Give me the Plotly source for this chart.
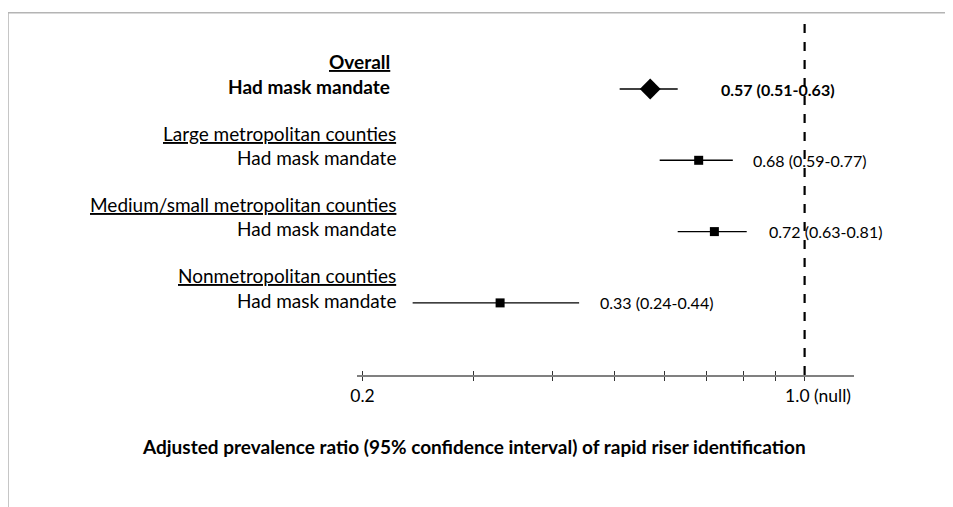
import math
import plotly.graph_objects as go

# ---- data ----
groups = ["Overall", "Large metropolitan counties",
          "Medium/small metropolitan counties", "Nonmetropolitan counties"]
row_label = "Had mask mandate"
estimate = [0.57, 0.68, 0.72, 0.33]
lower = [0.51, 0.59, 0.63, 0.24]
upper = [0.63, 0.77, 0.81, 0.44]
tick_values = [0.2, 0.3, 0.4, 0.5, 0.6, 0.7, 0.8, 0.9, 1.0]
tick_labels = ["0.2", "", "", "", "", "", "", "", "1.0 (null)"]
x_title = "Adjusted prevalence ratio (95% confidence interval) of rapid riser identification"

# ---- layout geometry (target page pixels; the page body has an 8px margin) ----
OFF = 8
W, H = 953 - OFF, 507 - OFF
L, R, T, B = 357 - OFF, 854 - OFF, 16 - OFF, 375 - OFF
PW, PH = R - L, B - T
def px(xp):
    return (xp - OFF - L) / PW
def py(yp):
    return (B - (yp - OFF)) / PH

FONT = "Lato"
rows = list(range(len(groups)))
y_range = [(375 - 89) / 71.3, (16 - 89) / 71.3]

fig = go.Figure()

# overall (diamond)
fig.add_trace(go.Scatter(
    x=[estimate[0]], y=[rows[0]], mode="markers",
    marker=dict(symbol="diamond", size=16, color="black"),
    error_x=dict(type="data", symmetric=False,
                 array=[upper[0] - estimate[0]],
                 arrayminus=[estimate[0] - lower[0]],
                 width=0, thickness=1.6, color="black"),
    showlegend=False, hoverinfo="skip"))
# subgroups (squares)
fig.add_trace(go.Scatter(
    x=estimate[1:], y=rows[1:], mode="markers",
    marker=dict(symbol="square", size=9, color="black"),
    error_x=dict(type="data", symmetric=False,
                 array=[u - e for u, e in zip(upper[1:], estimate[1:])],
                 arrayminus=[e - l for e, l in zip(estimate[1:], lower[1:])],
                 width=0, thickness=1.4, color="black"),
    showlegend=False, hoverinfo="skip"))
# invisible trace for the crossing tick axis
fig.add_trace(go.Scatter(x=[estimate[0]], y=[rows[0]], xaxis="x2",
                         mode="markers", marker=dict(opacity=0),
                         showlegend=False, hoverinfo="skip"))

annotations = []
label_shift = [41, 18, 20, 19]
for i, g in enumerate(groups):
    bold = (i == 0)
    head = f"<b><u>{g}</u></b>" if bold else f"<u>{g}</u>"
    rl = f"<b>{row_label}</b>" if bold else row_label
    xr = px(392) if bold else px(398)
    annotations.append(dict(x=xr, y=rows[i] - 0.38, xref="paper", yref="y",
                            text=head, showarrow=False, xanchor="right",
                            yanchor="middle", font=dict(family=FONT, size=19, color="black")))
    annotations.append(dict(x=xr, y=rows[i] - 0.04, xref="paper", yref="y",
                            text=rl, showarrow=False, xanchor="right",
                            yanchor="middle", font=dict(family=FONT, size=19, color="black")))
    val = f"{estimate[i]:.2f} ({lower[i]:.2f}-{upper[i]:.2f})"
    if bold:
        val = f"<b>{val}</b>"
    annotations.append(dict(x=math.log10(upper[i]), y=rows[i], xref="x", yref="y",
                            text=val, showarrow=False, xanchor="left", xshift=label_shift[i],
                            yanchor="middle", font=dict(family=FONT, size=16, color="black")))

annotations.append(dict(x=px(474), y=py(446), xref="paper", yref="paper",
                        text=f"<b>{x_title}</b>", showarrow=False,
                        xanchor="center", yanchor="middle",
                        font=dict(family=FONT, size=19, color="black")))

shapes = [
    dict(type="line", xref="x", yref="paper", x0=1.0, x1=1.0, y0=0, y1=1,
         line=dict(color="black", width=2.2, dash="9px,9px")),
    dict(type="path", xref="paper", yref="paper",
         path=f"M {px(8)},{py(520)} L {px(8)},{py(12.7)} L {px(970)},{py(12.7)}",
         line=dict(color="#b4b4b4", width=1.5)),
]

tick_text = [("\u00a0" * 6 + t) if t.startswith("1.0") else t for t in tick_labels]

xr = [math.log10(0.196), math.log10(1.197)]
fig.update_layout(
    width=W, height=H,
    margin=dict(l=L, r=W - R, t=T, b=H - B),
    plot_bgcolor="white", paper_bgcolor="white",
    font=dict(family=FONT, color="black"),
    xaxis=dict(type="log", range=xr, tickmode="array", tickvals=tick_values,
               ticktext=tick_text, ticks="outside", ticklen=4, tickwidth=1,
               tickcolor="#333", showline=True, linecolor="#808080", linewidth=1.5,
               showgrid=False, zeroline=False,
               tickfont=dict(family=FONT, size=17.5, color="black")),
    xaxis2=dict(type="log", range=xr, overlaying="x", anchor="y", side="bottom",
                tickmode="array", tickvals=tick_values, ticktext=[""] * len(tick_values),
                ticks="inside", ticklen=4, tickwidth=1, tickcolor="#333",
                showline=False, showgrid=False, zeroline=False),
    yaxis=dict(range=y_range, visible=False, showgrid=False, zeroline=False),
    annotations=annotations,
    shapes=shapes,
)

fig.write_html("out.html")
